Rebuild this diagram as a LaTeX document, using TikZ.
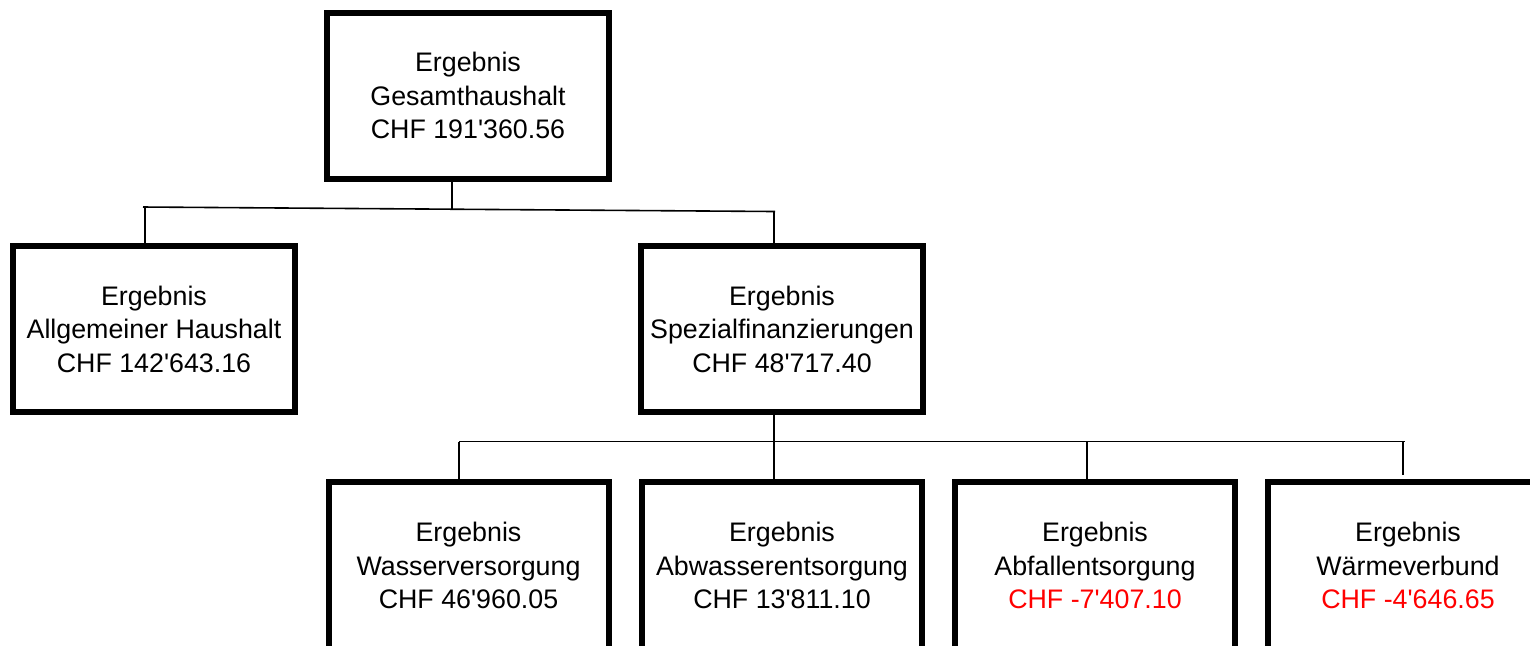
\documentclass[tikz,border=0pt]{standalone}
\usepackage{fontspec}
\setmainfont{Liberation Sans}[Ligatures=TeXOff]
\newcommand\ap{\char"27\relax}
\begin{document}
\begin{tikzpicture}[x=0.5pt,y=-0.5pt,
  box/.style={draw=black, line width=3pt, fill=white, inner sep=0pt,
    minimum width=141pt, minimum height=83pt, align=center,
    font=\fontsize{13.4}{16.75}\selectfont},
  lowbox/.style={box, minimum width=140pt, minimum height=84pt},
  conn/.style={draw=black, line width=0.8pt}]
\useasboundingbox (0,0) rectangle (1530,645);
\clip (0,0) rectangle (1530,645);
\fill[white] (0,0) rectangle (1530,645);
% boxes
\node[box] (top) at (468,95.5) {Ergebnis\\Gesamthaushalt\\CHF 191\ap360.56};
\node[box] (allg) at (154,329) {Ergebnis\\Allgemeiner Haushalt\\CHF 142\ap643.16};
\node[box] (spez) at (782,329) {Ergebnis\\Spezialfinanzierungen\\CHF 48\ap717.40};
\node[lowbox] (wv) at (468.5,565.5) {Ergebnis\\Wasserversorgung\\CHF 46\ap960.05};
\node[lowbox] (ab) at (782,565.5) {Ergebnis\\Abwasserentsorgung\\CHF 13\ap811.10};
\node[lowbox] (af) at (1095,565.5) {Ergebnis\\Abfallentsorgung\\\textcolor{red}{CHF -7\ap407.10}};
\node[lowbox] (wa) at (1408,565.5) {Ergebnis\\Wärmeverbund\\\textcolor{red}{CHF -4\ap646.65}};
% junction coordinates
\coordinate (t0) at (452,208.5);
\coordinate (hl) at (143,207);
\coordinate (hr) at (775,211.5);
\coordinate (s0) at (774,441.5);
\coordinate (bl) at (459,441.5);
\coordinate (br) at (1405,441.5);
\coordinate (c3) at (1087,441.5);
\coordinate (c4) at (1403,441.5);
\coordinate (c4e) at (1403,475);
% connectors level 1
\draw[conn] (t0 |- top.south) -- (t0);
\draw[conn] (hl) -- (hr);
\draw[conn] ([xshift=1pt]hl) -- ([xshift=1pt]hl |- allg.north);
\draw[conn] ([xshift=-0.5pt]hr) -- ([xshift=-0.5pt]hr |- spez.north);
% connectors level 2
\draw[conn] (s0 |- spez.south) -- (s0);
\draw[conn] (bl) -- (br);
\draw[conn] (bl) -- (bl |- wv.north);
\draw[conn] (s0) -- (s0 |- ab.north);
\draw[conn] (c3) -- (c3 |- af.north);
\draw[conn] (c4) -- (c4e);
\end{tikzpicture}
\end{document}
